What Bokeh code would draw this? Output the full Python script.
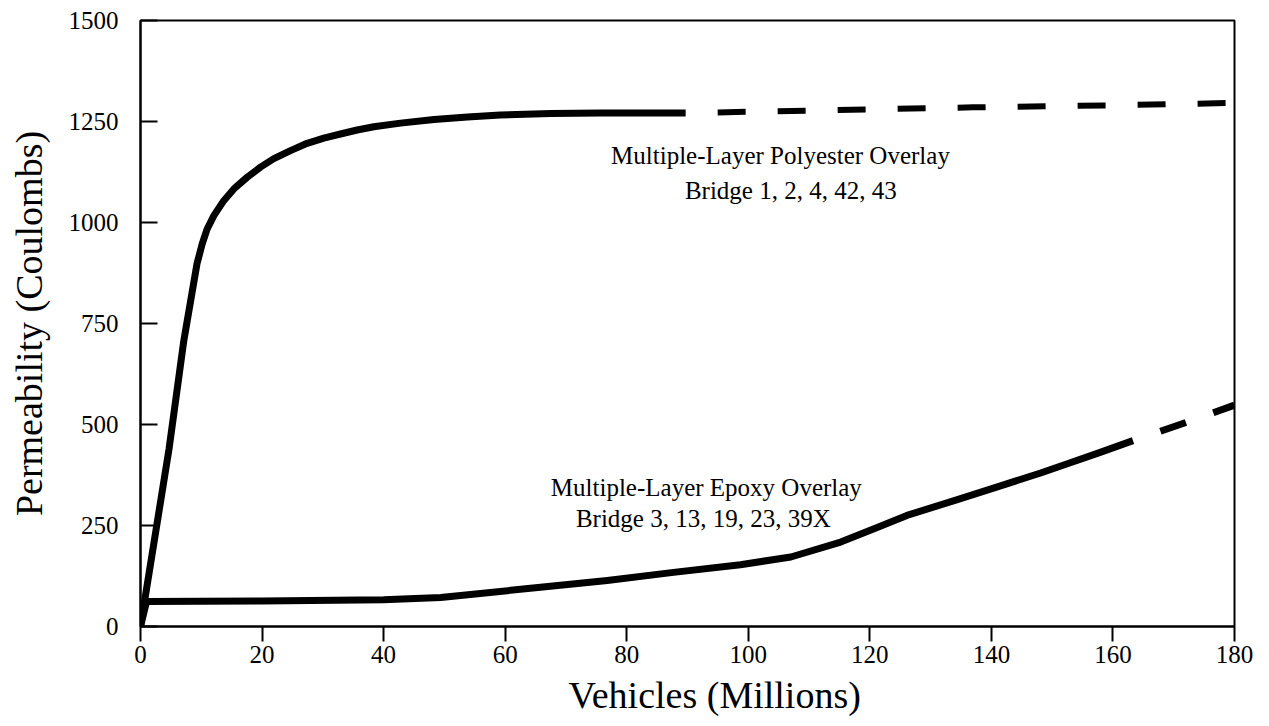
from bokeh.plotting import figure
from bokeh.models import Range1d, Label, FixedTicker, Title
from bokeh.embed import file_html
from bokeh.resources import INLINE

# Polyester overlay (solid part, then dashed extrapolation)
poly_x = [0, 4.7, 7.1, 9.3, 10.15, 10.97, 12.07, 13.7, 15.36, 17.55, 19.74, 21.94, 24.68, 27.42,
          30.16, 32.9, 35.65, 38.39, 42.78, 48.3, 53.8, 59.2, 67.5, 75.7, 89.7]
poly_y = [0, 440, 705, 898, 947, 984, 1017, 1054, 1083, 1112, 1137, 1158, 1178, 1196,
          1209, 1219, 1229, 1237, 1246, 1255, 1261, 1266, 1270, 1271, 1271]
poly_dash_x = [89.7, 110, 137, 160, 180]
poly_dash_y = [1271, 1277, 1285, 1290, 1296]

# Epoxy overlay
epoxy_x = [0, 1, 20, 40, 49.4, 65.8, 76.8, 87.7, 98.7, 107, 115.2, 120.7, 126.1, 134.4, 141.5, 148.1, 152.5, 157.9, 163.3]
epoxy_y = [0, 62, 63, 66, 72, 97, 114, 134, 153, 172, 209, 242, 275, 314, 348, 380, 403, 431, 460]
epoxy_dash_x = [163.3, 172, 180]
epoxy_dash_y = [460, 505, 548]

x_ticks = [0, 20, 40, 60, 80, 100, 120, 140, 160, 180]
y_ticks = [0, 250, 500, 750, 1000, 1250, 1500]

FONT = "Liberation Serif"

p = figure(width=1253, height=726, output_backend="svg", toolbar_location=None,
           x_range=Range1d(0, 180), y_range=Range1d(0, 1500),
           min_border_left=140, min_border_right=19, min_border_top=20, min_border_bottom=100)
p.grid.visible = False
p.outline_line_color = "black"
p.outline_line_width = 2
p.background_fill_color = "white"
p.border_fill_color = "white"

p.xaxis.ticker = FixedTicker(ticks=x_ticks)
p.yaxis.ticker = FixedTicker(ticks=y_ticks)
p.xaxis.minor_tick_line_color = None
p.yaxis.minor_tick_line_color = None
p.xaxis.major_tick_in = 0
p.xaxis.major_tick_out = 15
p.yaxis.major_tick_in = 17
p.yaxis.major_tick_out = 0
for ax in (p.xaxis, p.yaxis):
    ax.axis_line_width = 2
    ax.axis_line_color = "black"
    ax.major_tick_line_width = 2
    ax.major_tick_line_color = "black"
    ax.major_label_text_font = FONT
    ax.major_label_text_font_size = "25px"
    ax.major_label_text_color = "black"
    ax.axis_label_text_font = FONT
    ax.axis_label_text_font_style = "normal"
    ax.axis_label_text_color = "black"
p.xaxis.major_label_standoff = 4
p.yaxis.major_label_standoff = 22
p.yaxis.axis_label = "Permeability (Coulombs)"
p.yaxis.axis_label_text_font_size = "38px"
p.yaxis.axis_label_standoff = 16

# x-axis title (sits right of the frame centre in the original)
p.add_layout(Title(text="Vehicles (Millions)", align="left", offset=428, standoff=12,
                   text_font=FONT, text_font_size="38px", text_font_style="normal",
                   text_color="black"), "below")

p.line(poly_x, poly_y, line_width=7, line_color="black", line_join="round")
p.line(poly_dash_x, poly_dash_y, line_width=6, line_color="black",
       line_dash="28 32", line_dash_offset=28)
p.line(epoxy_x, epoxy_y, line_width=7, line_color="black", line_join="round")
p.line(epoxy_dash_x, epoxy_dash_y, line_width=7, line_color="black",
       line_dash="27 29", line_dash_offset=27)

labels = [
    (105.3, 1166, "Multiple-Layer Polyester Overlay"),
    (107.0, 1079, "Bridge 1, 2, 4, 42, 43"),
    (93.1, 344, "Multiple-Layer Epoxy Overlay"),
    (92.6, 267, "Bridge 3, 13, 19, 23, 39X"),
]
for lx, ly, t in labels:
    p.add_layout(Label(x=lx, y=ly, text=t, text_align="center", text_baseline="middle",
                       text_font=FONT, text_font_size="25px", text_color="black"))

open("out.html", "w").write(file_html(p, INLINE))
